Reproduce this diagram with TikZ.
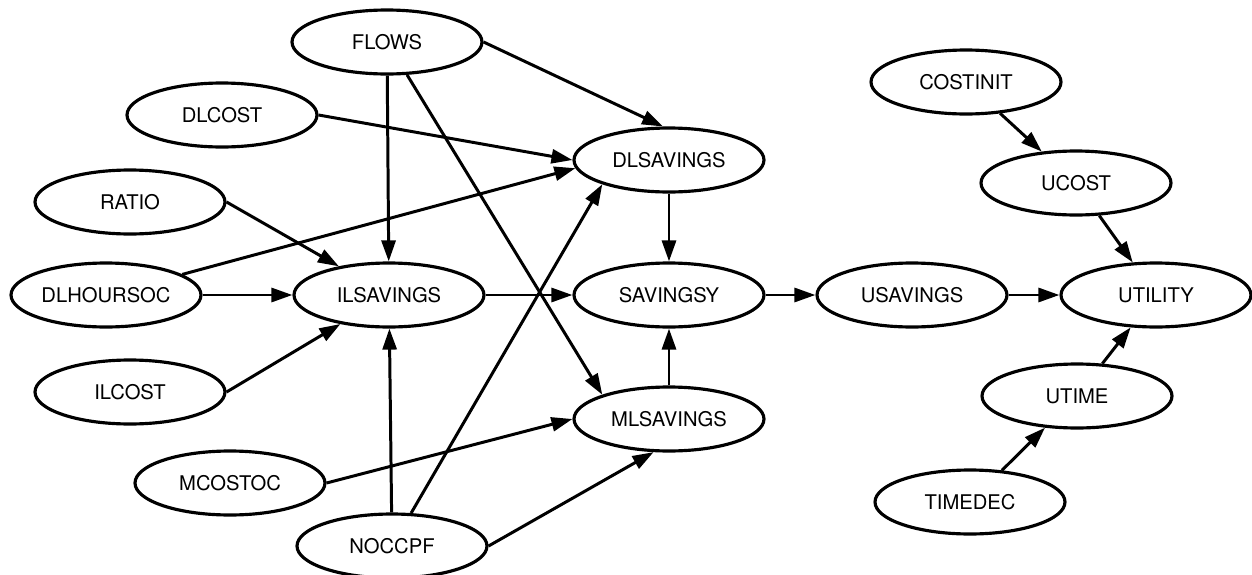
\documentclass[tikz,border=0pt]{standalone}
\usepackage{fontspec}
\setmainfont{TeX Gyre Heros}
\usetikzlibrary{shapes.geometric,arrows.meta}
\begin{document}
\begin{tikzpicture}[x=0.02cm,y=-0.02cm,line join=round,>={Triangle[length=4.2mm,width=2.8mm]}]
	\tikzset{var/.style={draw,ellipse,line width=1.8pt,minimum width=3.8cm,minimum height=1.28cm,inner sep=0pt,font=\fontsize{11.5}{13}\selectfont}}
	\tikzset{link/.style={->,line width=1.7pt}}
	\useasboundingbox (0,0) rectangle (1252,575);
	% inputs on the left
	\node[var] (flows) at (387,42) {FLOWS};
	\node[var] (dlcost) at (222,115) {DLCOST};
	\node[var] (ratio) at (130,202) {RATIO};
	\node[var] (dlhours) at (106,295) {DLHOURSOC};
	\node[var] (ilcost) at (130,392) {ILCOST};
	\node[var] (mcost) at (230,483) {MCOSTOC};
	\node[var] (noccpf) at (392,546) {NOCCPF};
	% savings
	\node[var] (ilsav) at (389,295) {ILSAVINGS};
	\node[var] (dlsav) at (669,160) {DLSAVINGS};
	\node[var] (savy) at (669,295) {SAVINGSY};
	\node[var] (mlsav) at (669,419) {MLSAVINGS};
	\node[var] (usav) at (912,295) {USAVINGS};
	% utility
	\node[var] (util) at (1156,295) {UTILITY};
	\node[var] (costinit) at (966,82) {COSTINIT};
	\node[var] (ucost) at (1076,183) {UCOST};
	\node[var] (utime) at (1077,396) {UTIME};
	\node[var] (timedec) at (970,502) {TIMEDEC};
	\foreach \a/\b in {flows/ilsav,flows/mlsav.160,flows.east/dlsav.100,dlcost.east/dlsav.west,ratio.east/ilsav,dlhours/dlsav.185,dlhours/ilsav,ilcost.east/ilsav,mcost.east/mlsav.west,noccpf/ilsav,noccpf/dlsav.200,noccpf.east/mlsav.245}
	\draw[link] (\a)--(\b);
	\foreach \a/\b in {ilsav/savy,dlsav/savy,mlsav/savy,savy/usav,usav/util,costinit/ucost,ucost/util,utime/util,timedec/utime}
	\draw[link] (\a)--(\b);
\end{tikzpicture}
\end{document}
